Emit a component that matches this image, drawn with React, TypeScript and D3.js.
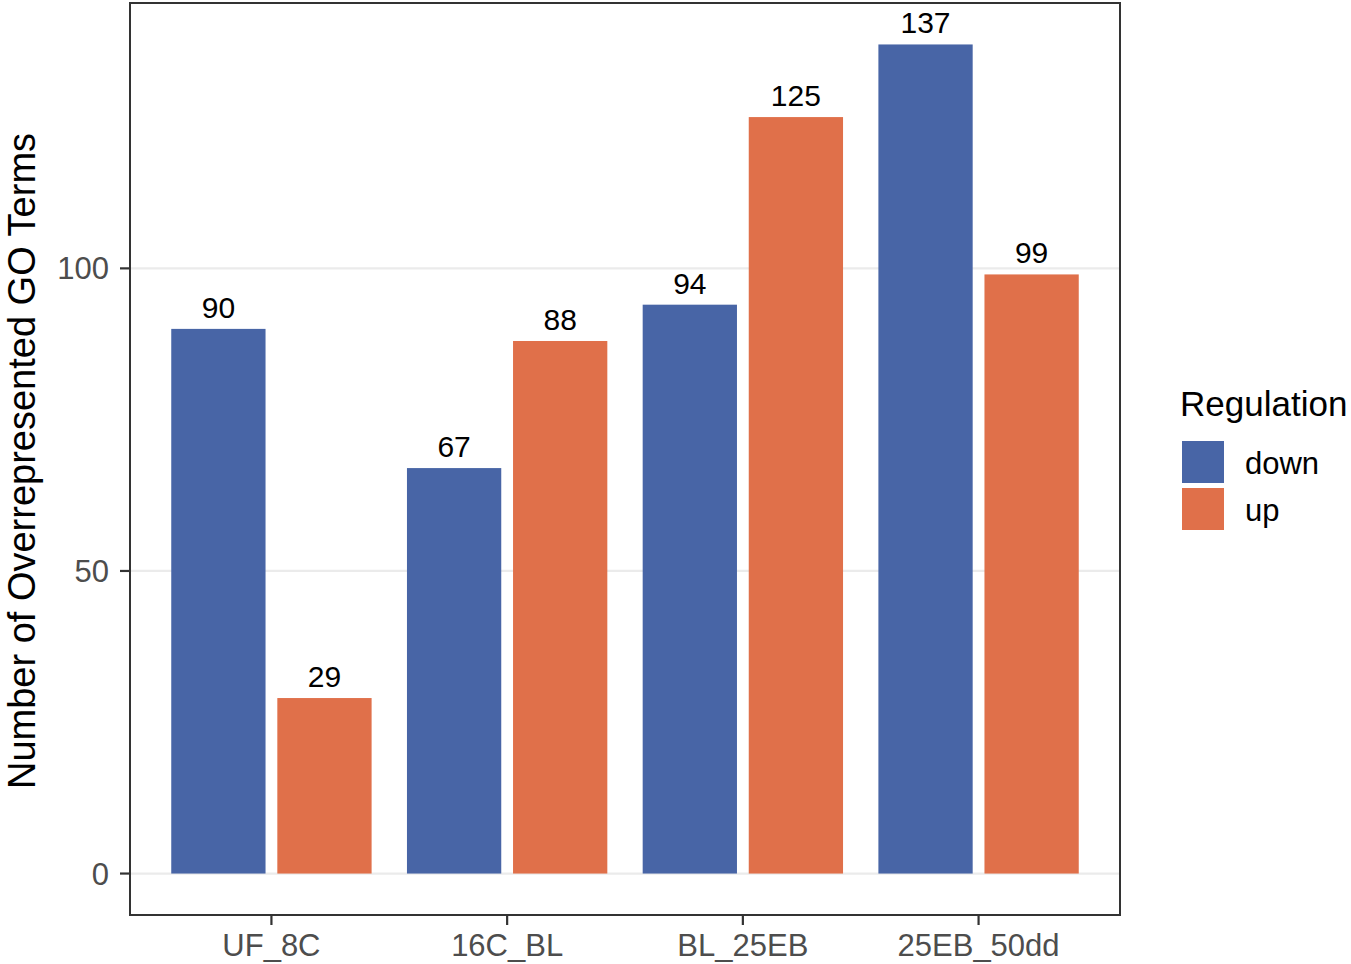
import { useMemo } from "react";
import * as d3 from "d3";

const categories = ["UF_8C", "16C_BL", "BL_25EB", "25EB_50dd"];
const downValues = [90, 67, 94, 137];
const upValues = [29, 88, 125, 99];
const series = ["down", "up"];
const colors: Record<string, string> = { down: "#4865a6", up: "#e0704a" };
const yTicks = [0, 50, 100];

export default function App() {
  const width = 1351;
  const height = 964;
  const panel = { left: 130, right: 1120, top: 3, bottom: 915 };
  const font = "'Liberation Sans', Arial, Helvetica, sans-serif";

  const maxVal = d3.max([...downValues, ...upValues]) as number;

  // ggplot-like expansion: 5% for continuous, 0.6 for discrete
  const y = useMemo(
    () =>
      d3.scaleLinear()
        .domain([-0.05 * maxVal, maxVal * 1.05])
        .range([panel.bottom, panel.top]),
    [maxVal]
  );
  const x = useMemo(
    () => d3.scaleLinear().domain([0.4, categories.length + 0.6]).range([panel.left, panel.right]),
    []
  );

  const dodge = 0.225;
  const barW = x(0.4) - x(0);

  const bars = categories.flatMap((c, i) => [
    { cat: c, key: "down", value: downValues[i], pos: i + 1 - dodge },
    { cat: c, key: "up", value: upValues[i], pos: i + 1 + dodge },
  ]);

  return (
    <svg
      width={width}
      height={height}
      style={{ position: "absolute", left: 0, top: 0, background: "#fff" }}
      fontFamily={font}
    >
      {/* grid */}
      {yTicks.map((t) => (
        <line key={t} x1={panel.left} x2={panel.right} y1={y(t)} y2={y(t)} stroke="#ebebeb" strokeWidth={2.2} />
      ))}

      {/* bars */}
      {bars.map((b, i) => (
        <rect
          key={i}
          x={x(b.pos) - barW / 2}
          y={y(b.value)}
          width={barW}
          height={y(0) - y(b.value)}
          fill={colors[b.key]}
        />
      ))}

      {/* value labels */}
      {bars.map((b, i) => (
        <text key={i} x={x(b.pos)} y={y(b.value) - 11} textAnchor="middle" fontSize={30} fill="#000">
          {b.value}
        </text>
      ))}

      {/* panel border */}
      <rect
        x={panel.left}
        y={panel.top}
        width={panel.right - panel.left}
        height={panel.bottom - panel.top}
        fill="none"
        stroke="#333"
        strokeWidth={2}
      />

      {/* y axis */}
      {yTicks.map((t) => (
        <g key={t}>
          <line x1={panel.left - 10} x2={panel.left} y1={y(t)} y2={y(t)} stroke="#333" strokeWidth={2.2} />
          <text x={panel.left - 21} y={y(t) + 11} textAnchor="end" fontSize={31} fill="#4d4d4d">
            {t}
          </text>
        </g>
      ))}

      {/* x axis */}
      {categories.map((c, i) => (
        <g key={c}>
          <line x1={x(i + 1)} x2={x(i + 1)} y1={panel.bottom} y2={panel.bottom + 10} stroke="#333" strokeWidth={2.2} />
          <text x={x(i + 1)} y={panel.bottom + 41} textAnchor="middle" fontSize={31} fill="#4d4d4d">
            {c}
          </text>
        </g>
      ))}

      {/* y title */}
      <text
        transform={`translate(35, ${(panel.top + panel.bottom) / 2 + 2}) rotate(-90)`}
        textAnchor="middle"
        fontSize={38}
        fill="#000"
      >
        Number of Overrepresented GO Terms
      </text>

      {/* legend */}
      <text x={1180} y={416} fontSize={35} fill="#000">Regulation</text>
      {series.map((s, i) => (
        <g key={s} transform={`translate(1182, ${441 + i * 47})`}>
          <rect width={42} height={42} fill={colors[s]} />
          <text x={63} y={33} fontSize={31} fill="#000">{s}</text>
        </g>
      ))}
    </svg>
  );
}
